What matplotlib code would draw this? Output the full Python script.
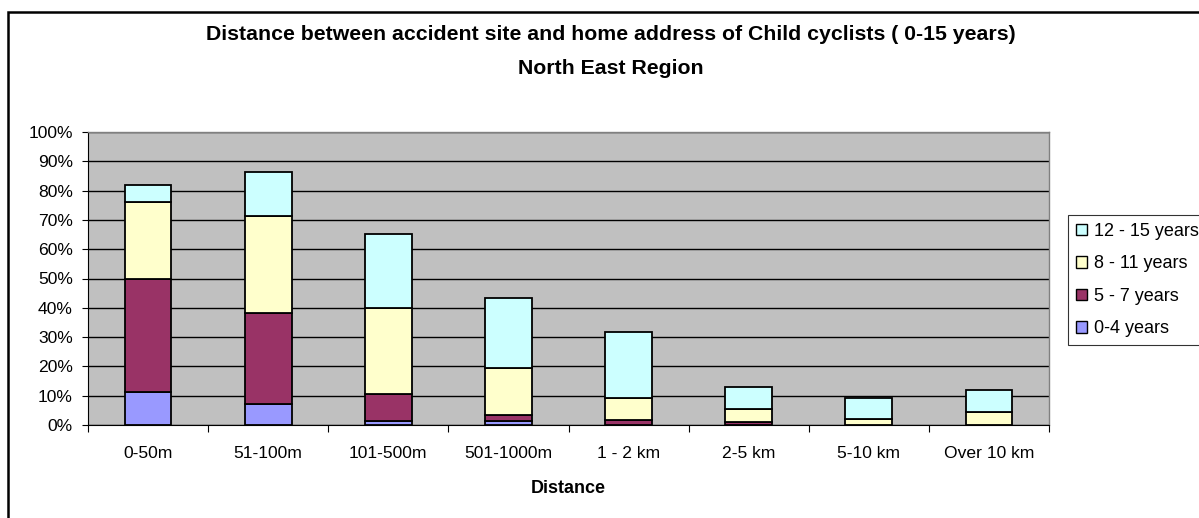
import numpy as np
import matplotlib.pyplot as plt
from matplotlib.patches import Rectangle, Patch

plt.rcParams['font.family'] = ['Liberation Sans', 'DejaVu Sans']

# Datos (porcentajes)
distancias = ['0-50m', '51-100m', '101-500m', '501-1000m', '1 - 2 km',
              '2-5 km', '5-10 km', 'Over 10 km']
edad_0_4 = [11.1, 7.2, 1.5, 1.5, 0.0, 0.0, 0.0, 0.0]
edad_5_7 = [38.7, 31.0, 9.2, 1.8, 1.6, 1.0, 0.0, 0.0]
edad_8_11 = [26.2, 33.3, 29.3, 16.0, 7.5, 4.6, 2.2, 4.4]
edad_12_15 = [5.9, 15.0, 25.1, 24.2, 22.8, 7.5, 6.9, 7.6]

series = [('0-4 years', edad_0_4, '#9999FF'),
          ('5 - 7 years', edad_5_7, '#993366'),
          ('8 - 11 years', edad_8_11, '#FFFFCC'),
          ('12 - 15 years', edad_12_15, '#CCFFFF')]

W, H = 1199, 518
fig = plt.figure(figsize=(W / 100, H / 100), dpi=100)
ax = fig.add_axes([88 / W, 1 - 425 / H, (1049 - 88) / W, (425 - 132) / H])
ax.set_facecolor('#C0C0C0')

x = np.arange(len(distancias))
base = np.zeros(len(distancias))
for nombre, vals, color in series:
    vals = np.array(vals)
    ax.bar(x, vals, width=0.39, bottom=base, color=color, edgecolor='black',
           linewidth=1.3, zorder=3)
    base += vals

# Ejes
ax.set_xlim(-0.5, len(distancias) - 0.5)
ax.set_ylim(0, 100)
ax.set_yticks(np.arange(0, 101, 10))
ax.set_yticklabels([f'{v}%' for v in range(0, 101, 10)], fontsize=12.6)
ax.yaxis.grid(True, color='black', linewidth=1, zorder=1)
ax.set_axisbelow(True)

ax.set_xticks(np.arange(-0.5, len(distancias), 1))
ax.set_xticklabels([])
ax.set_xticks(x, minor=True)
ax.set_xticklabels(distancias, minor=True, fontsize=12.6)
ax.tick_params(axis='x', which='minor', length=0, pad=15)
ax.tick_params(axis='x', which='major', length=5, direction='out', color='black')
ax.tick_params(axis='y', length=4, direction='out', color='black', pad=7)

for lado in ['top', 'right']:
    ax.spines[lado].set_color('#808080')
    ax.spines[lado].set_linewidth(1)
ax.spines['left'].set_color('black')
ax.spines['bottom'].set_color('black')

ax.set_xlabel('Distance', fontsize=13, fontweight='bold', labelpad=14)

fig.text(611 / W, 1 - 35 / H,
         'Distance between accident site and home address of Child cyclists ( 0-15 years)',
         ha='center', va='center', fontsize=15.3, fontweight='bold')
fig.text(611 / W, 1 - 68.5 / H, 'North East Region',
         ha='center', va='center', fontsize=15.3, fontweight='bold')

# Leyenda
handles = [Patch(facecolor=c, edgecolor='black', label=n) for n, v, c in series][::-1]
leg = fig.legend(handles=handles, loc='upper left',
                 bbox_to_anchor=(1068 / W, 1 - 215 / H), fontsize=13,
                 frameon=True, fancybox=False, edgecolor='black',
                 handlelength=0.6, handleheight=0.6, handletextpad=0.37,
                 labelspacing=0.85, borderpad=0.45, borderaxespad=0)
leg.get_frame().set_linewidth(0.8)

# Marco del gráfico
fig.patches.append(Rectangle((8 / W, -0.1), 1.2, 1 - 12 / H + 0.1,
                             transform=fig.transFigure, fill=False,
                             edgecolor='black', linewidth=1.8))

fig.savefig('out.png', dpi=100)
